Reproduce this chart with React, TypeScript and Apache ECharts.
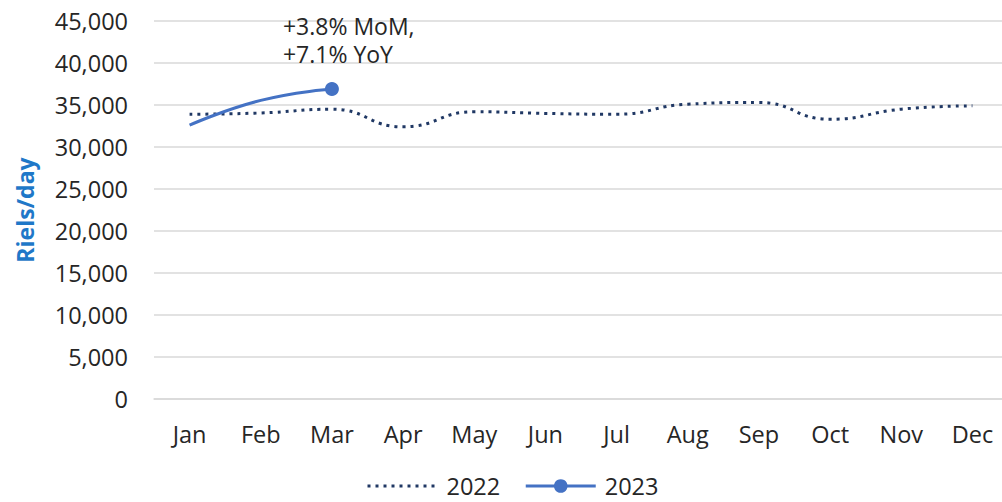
import React, { useEffect, useRef } from "react";
import * as echarts from "echarts";

const months = ["Jan", "Feb", "Mar", "Apr", "May", "Jun", "Jul", "Aug", "Sep", "Oct", "Nov", "Dec"];
const values2022 = [33900, 34050, 34500, 32400, 34200, 34000, 33900, 35100, 35300, 33300, 34500, 34900];
const values2023 = [32600, 35550, 36900];
const annotationText = "+3.8% MoM,\n+7.1% YoY";
const yAxisName = "Riels/day";

const FONT = "'Open Sans', sans-serif";
const FS = 23.5;

export default function App() {
  const ref = useRef<HTMLDivElement>(null);
  useEffect(() => {
    const chart = echarts.init(ref.current!, null, { renderer: "svg" });
    const last = values2023.length - 1;
    chart.setOption({
      animation: false,
      textStyle: { fontFamily: FONT },
      grid: { left: 154, right: 2, top: 21, bottom: 103 },
      legend: {
        bottom: -1,
        left: 361,
        itemWidth: 70,
        itemHeight: 17,
        itemGap: 24,
        textStyle: { fontSize: FS, color: "#262626", fontFamily: FONT, padding: [0, 0, 0, 4] },
        data: [
          { name: "2022", itemStyle: { opacity: 0 }, lineStyle: { width: 3, type: [3, 5] } },
          { name: "2023", lineStyle: { width: 3 } },
        ],
      },
      xAxis: {
        type: "category",
        data: months,
        boundaryGap: true,
        axisLine: { show: true, lineStyle: { color: "#d9d9d9", width: 1.5 } },
        axisTick: { show: false },
        axisLabel: { fontSize: FS, color: "#262626", margin: 23, fontFamily: FONT },
      },
      yAxis: {
        type: "value",
        min: 0,
        max: 45000,
        interval: 5000,
        name: yAxisName,
        nameLocation: "middle",
        nameRotate: 90,
        nameGap: 118,
        nameTextStyle: { fontSize: 23, fontWeight: "bold", color: "#1F78C8", fontFamily: FONT },
        axisLine: { show: false },
        axisTick: { show: false },
        splitLine: { lineStyle: { color: "#d9d9d9", width: 1.5 } },
        axisLabel: {
          fontSize: FS,
          color: "#262626",
          margin: 26,
          fontFamily: FONT,
          formatter: (v: number) => v.toLocaleString("en-US"),
        },
      },
      series: [
        {
          name: "2022",
          type: "line",
          data: values2022,
          smooth: 0.5,
          symbol: "none",
          color: "#203864",
          lineStyle: { color: "#203864", width: 3, type: [3, 5], cap: "butt" },
        },
        {
          name: "2023",
          type: "line",
          smooth: 0.5,
          color: "#4472C4",
          symbol: "circle",
          symbolSize: 14,
          lineStyle: { color: "#4472C4", width: 3 },
          itemStyle: { color: "#4472C4" },
          data: values2023.map((v, i) =>
            i === last
              ? {
                  value: v,
                  label: {
                    show: true,
                    formatter: annotationText,
                    position: [-42, -70],
                    align: "left",
                    verticalAlign: "top",
                    fontSize: 23,
                    lineHeight: 28,
                    color: "#262626",
                    fontFamily: FONT,
                  },
                }
              : { value: v, symbol: "none" }
          ),
        },
      ],
    });
    return () => chart.dispose();
  }, []);
  return (
    <div
      style={{
        position: "fixed",
        left: 0,
        top: 0,
        width: 1002,
        height: 502,
        overflow: "hidden",
        background: "#fff",
      }}
    >
      <div ref={ref} style={{ width: 1010, height: 502 }} />
    </div>
  );
}
